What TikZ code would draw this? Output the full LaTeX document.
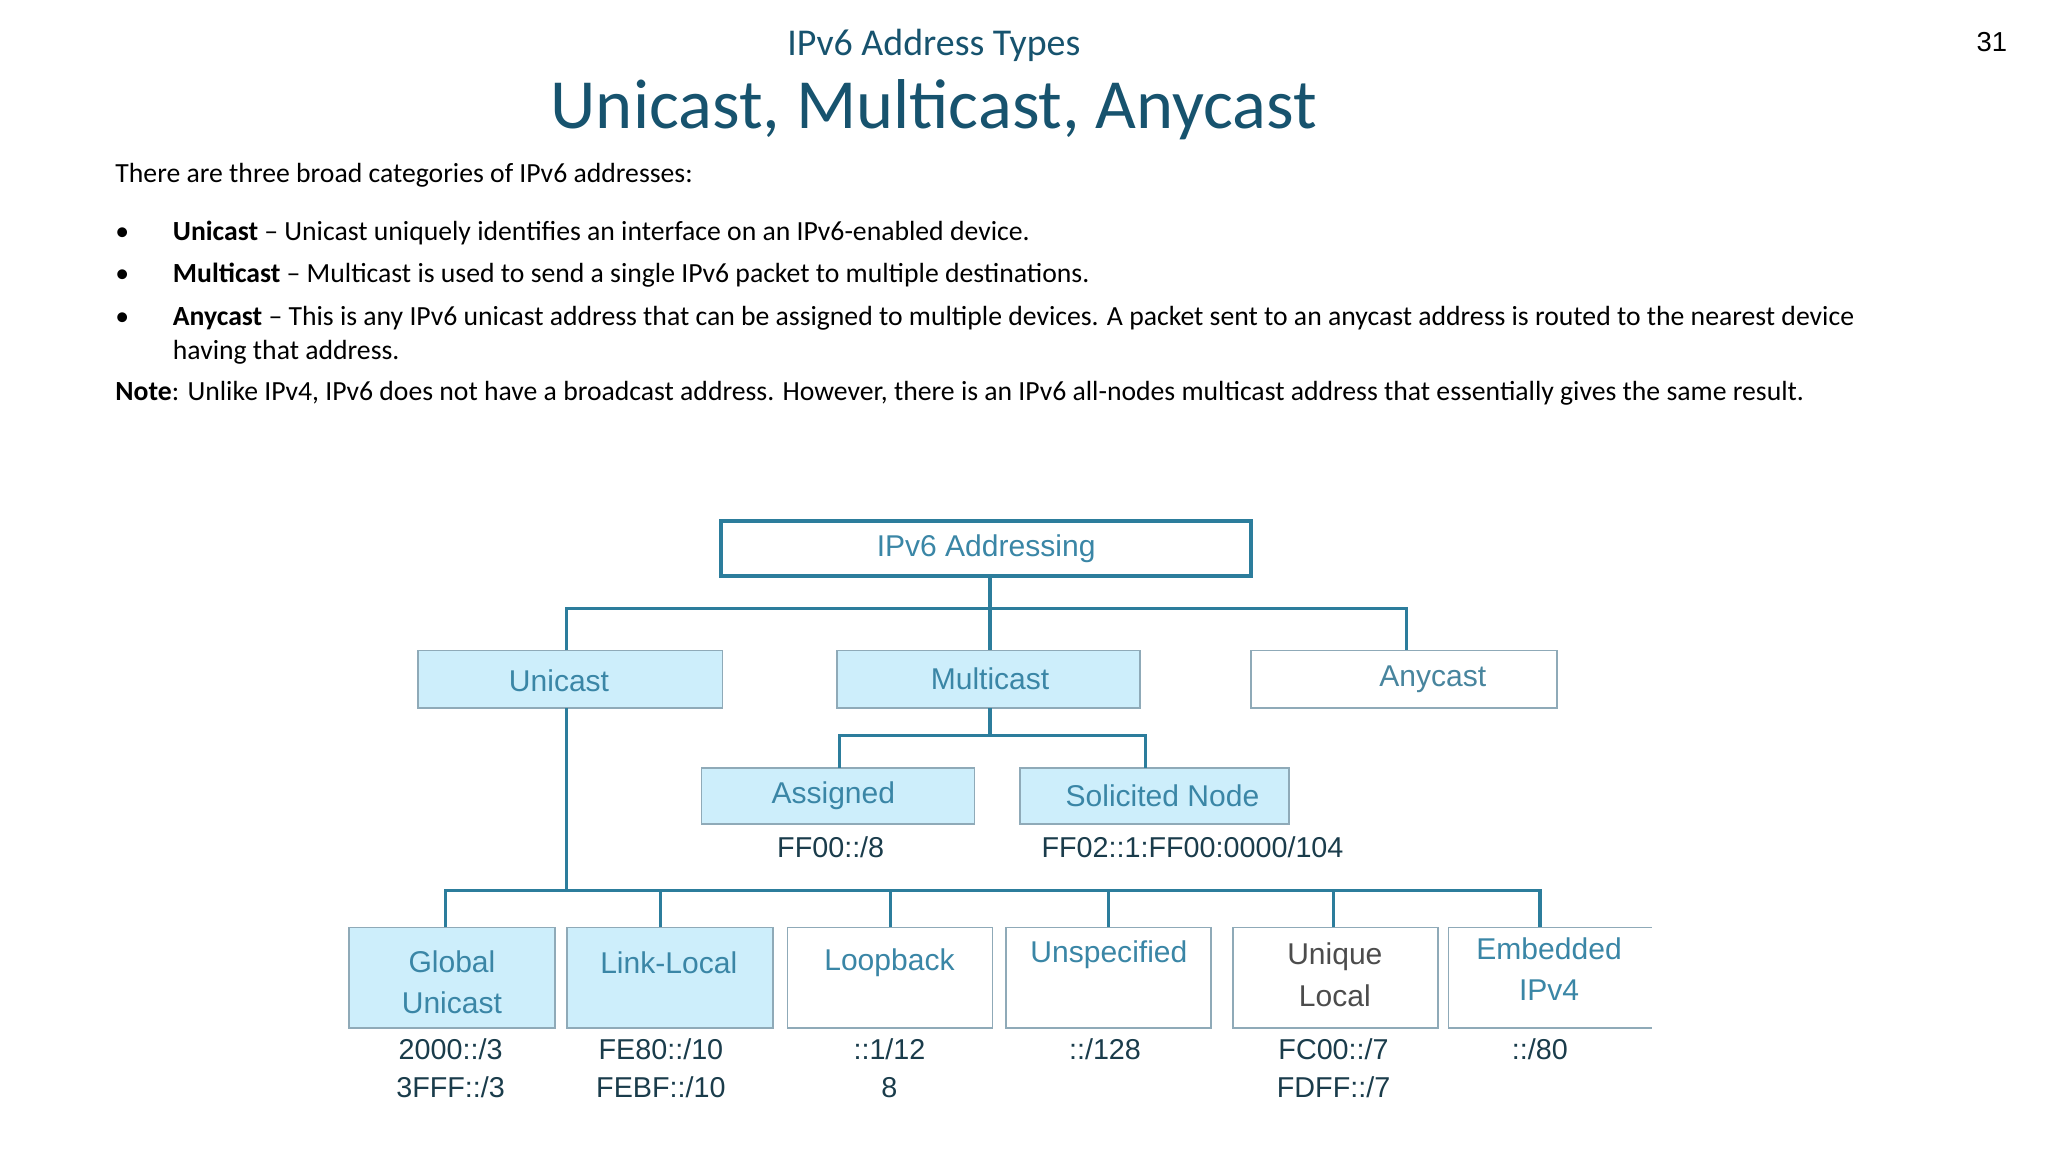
\documentclass[tikz,border=0pt]{standalone}
\usepackage{fontspec}
\setmainfont{Carlito}
\newfontfamily\diag{Liberation Sans}
\newfontfamily\arial{Liberation Sans}
\definecolor{ttl}{HTML}{17536E}
\definecolor{ln}{HTML}{2C7D9C}
\definecolor{dtx}{HTML}{3A86A6}
\definecolor{fillb}{HTML}{CDEEFB}
\definecolor{bord}{HTML}{8FAAB8}
\begin{document}
\begin{tikzpicture}[x=0.5pt,y=-0.5pt,
  bx/.style={draw=bord,line width=0.6pt,fill=fillb},
  wbx/.style={draw=bord,line width=0.6pt,fill=white},
  dt/.style={font=\diag\fontsize{11.5}{14}\selectfont,text=dtx,inner sep=0pt},
  adr/.style={font=\diag\fontsize{11}{14.5}\selectfont,text=black!55!dtx,inner sep=0pt,align=center,anchor=north},
  conn/.style={draw=ln,line width=1.2pt},
  body/.style={font=\fontsize{10.6}{13}\selectfont,anchor=base west,inner sep=0pt}]
\useasboundingbox (0,0) rectangle (1568,882);
\node[font=\fontsize{14.5}{17}\selectfont,text=ttl] (t1) at (715,35) {IPv6 Address Types};
\node[font=\fontsize{27}{30}\selectfont,text=ttl] (t2) at (715,84) {Unicast, Multicast, Anycast};
\node[font=\arial\fontsize{10.5}{12}\selectfont] (pg) at (1525,32) {31};
\node[body] (l0) at (88,140) {There are three broad categories of IPv6 addresses:};
\node[body] (b1) at (88,184) {•};
\node[body] (l1) at (132,184) {\textbf{Unicast} – Unicast uniquely identifies an interface on an IPv6-enabled device.};
\node[body] (b2) at (88,216) {•};
\node[body] (l2) at (132,216) {\textbf{Multicast} – Multicast is used to send a single IPv6 packet to multiple destinations.};
\node[body] (b3) at (88,249) {•};
\node[body] (l3) at (132,249) {\textbf{Anycast} – This is any IPv6 unicast address that can be assigned to multiple devices. A packet sent to an anycast address is routed to the nearest device};
\node[body] (l3b) at (132,275) {having that address.};
\node[body] (l4) at (88,307) {\textbf{Note}: Unlike IPv4, IPv6 does not have a broadcast address. However, there is an IPv6 all-nodes multicast address that essentially gives the same result.};
% boxes
\draw[draw=ln,line width=1.6pt,fill=white] (552,399) rectangle (958,441);
\node[dt] (root) at (755,420) {IPv6 Addressing};
\draw[bx] (320,498) rectangle (553,542); \node[dt] (uni) at (428,521) {Unicast};
\draw[bx] (641,498) rectangle (873,542); \node[dt] (mul) at (758,520) {Multicast};
\draw[wbx] (958,498) rectangle (1192,542); \node[dt,text=dtx!80!gray] (any) at (1097,520) {Anycast};
\draw[bx] (537,588) rectangle (746,631); \node[dt] (asg) at (638,609) {Assigned};
\draw[bx] (781,588) rectangle (987,631); \node[dt] (sol) at (890,609) {Solicited Node};
\node[adr] (a1) at (636,640) {FF00::/8};
\node[adr] (a2) at (913,640) {FF02::1:FF00:0000/104};
\draw[bx] (267,710) rectangle (425,787); \node[dt,align=center] (gu) at (346,752) {Global\\[2pt]Unicast};
\draw[bx] (434,710) rectangle (592,787); \node[dt] (ll) at (512,737) {Link-Local};
\draw[wbx] (603,710) rectangle (760,787); \node[dt] (lb) at (681,737) {Loopback};
\draw[wbx] (770,710) rectangle (927,787); \node[dt] (un) at (849,731) {Unspecified};
\draw[wbx] (944,710) rectangle (1101,787); \node[dt,align=center,text=black!70] (ul) at (1022,746) {Unique\\[2pt]Local};
\draw[wbx] (1109,710) -- (1265,710) (1109,710) -- (1109,787) -- (1265,787); \node[dt,align=center] (em) at (1186,742) {Embedded\\[2pt]IPv4};
\node[adr] (g1) at (345,795) {2000::/3\\3FFF::/3};
\node[adr] (g2) at (506,795) {FE80::/10\\FEBF::/10};
\node[adr] (g3) at (681,795) {::1/12\\8};
\node[adr] (g4) at (846,795) {::/128};
\node[adr] (g5) at (1021,795) {FC00::/7\\FDFF::/7};
\node[adr] (g6) at (1179,795) {::/80};
% connectors
\coordinate (r0) at (758,441);
\draw[conn] (r0) -- (758,498);
\draw[conn] (434,498) -- (434,466) -- (1077,466) -- (1077,498);
\draw[conn] (758,542) -- (758,563);
\draw[conn] (643,588) -- (643,563) -- (877,563) -- (877,588);
\draw[conn] (434,542) -- (434,682);
\draw[conn] (341,710) -- (341,682) -- (1179,682) -- (1179,710);
\foreach \x in {506,682,849,1021} \draw[conn] (\x,682) -- (\x,710);
\end{tikzpicture}
\end{document}
